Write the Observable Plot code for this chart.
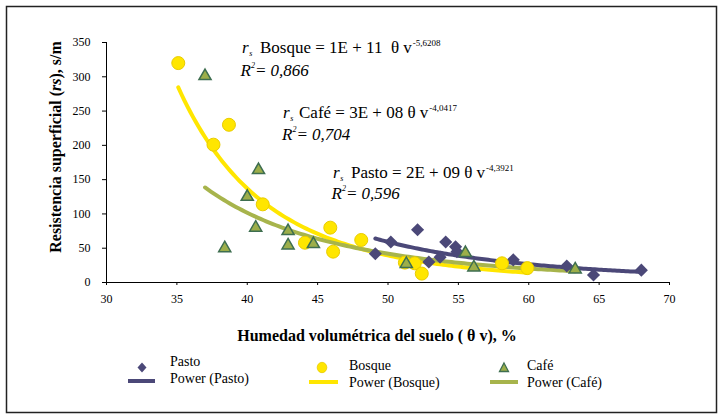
<!DOCTYPE html>
<html><head><meta charset="utf-8">
<script src="https://cdn.jsdelivr.net/npm/d3@7"></script>
<script src="https://cdn.jsdelivr.net/npm/@observablehq/plot@0.6"></script>
<style>
body{margin:0;background:#fff;}
#chart{width:722px;height:415px;}
#chart svg, #chart svg text { font-family: "Liberation Serif", "Times New Roman", serif !important; }
</style>
</head><body><div id="chart"></div>
<script>
// Humedad volumétrica del suelo (θv, %) y resistencia superficial (rs, s/m)
const pastoX = [49.1, 50.2, 52.1, 52.9, 53.7, 54.1, 54.8, 54.9, 58.9, 62.7, 64.6, 68.0];
const pastoY = [42, 59, 77, 30, 37, 59, 52, 45, 33, 24, 11, 18];
const bosqueX = [35.1, 37.6, 38.7, 41.1, 44.1, 45.9, 46.1, 48.1, 51.2, 51.9, 52.4, 58.1, 59.9];
const bosqueY = [320, 201, 230, 114, 58, 80, 45, 62, 29, 28, 13, 28, 21];
const cafeX = [37.0, 38.4, 40.0, 40.6, 40.8, 42.9, 42.9, 44.7, 51.3, 55.5, 56.1, 63.3];
const cafeY = [301, 50, 125, 80, 164, 75, 54, 56, 27, 43, 22, 19];
const xTicks = [30, 35, 40, 45, 50, 55, 60, 65, 70];
const yTicks = [0, 50, 100, 150, 200, 250, 300, 350];
const seriesNames = ["Pasto", "Bosque", "Café"];
const equations = ["= 2E + 09 θ v", "= 1E + 11  θ v", "= 3E + 08 θ v"];
const exponents = ["-4,3921", "-5,6208", "-4,0417"];
const r2 = ["0,596", "0,866", "0,704"];

const rows = (xs, ys, s) => xs.map((x, i) => ({x, y: ys[i], series: s}));
const pasto = rows(pastoX, pastoY, "Pasto");
const bosque = rows(bosqueX, bosqueY, "Bosque");
const cafe = rows(cafeX, cafeY, "Café");

// Power trendline: least squares fit of ln(y) on ln(x), drawn over the data range
function powerFit(data) {
  const lx = data.map(d => Math.log(d.x)), ly = data.map(d => Math.log(d.y));
  const mx = d3.mean(lx), my = d3.mean(ly);
  const b = d3.sum(lx, (v, i) => (v - mx) * (ly[i] - my)) / d3.sum(lx, v => (v - mx) ** 2);
  const a = Math.exp(my - b * mx);
  const [x0, x1] = d3.extent(data, d => d.x);
  return d3.range(0, 121).map(i => { const x = x0 + (x1 - x0) * i / 120; return {x, y: a * Math.pow(x, b)}; });
}

const C = {pasto: "#4B4878", bosque: "#FFE600", bosqueStroke: "#E9CC00", cafe: "#9CAE4A", cafeStroke: "#3E6E50", cafeLine: "#A7B44C"};
const serif = "Liberation Serif, Times New Roman, serif";

const plot = Plot.plot({
  width: 722, height: 415,
  marginLeft: 106, marginRight: 53, marginTop: 42, marginBottom: 133,
  x: {domain: [30, 70]},
  y: {domain: [0, 350]},
  style: {fontFamily: serif, fontSize: "12px", color: "#000", background: "#fff", overflow: "visible"},
  marks: [
    Plot.axisX({ticks: xTicks, tickSize: 3, tickPadding: 9, label: null}),
    Plot.axisY({ticks: yTicks, tickSize: 4, tickPadding: 12, label: null}),
    Plot.ruleY([0], {stroke: "#000"}),
    Plot.ruleX([30], {stroke: "#000"}),
    Plot.line(powerFit(bosque), {x: "x", y: "y", stroke: C.bosque, strokeWidth: 4}),
    Plot.line(powerFit(cafe), {x: "x", y: "y", stroke: C.cafeLine, strokeWidth: 4}),
    Plot.line(powerFit(pasto), {x: "x", y: "y", stroke: C.pasto, strokeWidth: 4}),
    Plot.dot(pasto, {x: "x", y: "y", symbol: "diamond2", r: 5.9, fill: C.pasto}),
    Plot.dot(bosque, {x: "x", y: "y", symbol: "circle", r: 6.5, fill: C.bosque, stroke: C.bosqueStroke, strokeWidth: 1}),
    Plot.dot(cafe, {x: "x", y: "y", symbol: "triangle", r: 4.5, fill: C.cafe, stroke: C.cafeStroke, strokeWidth: 1.5})
  ]
});
document.getElementById("chart").append(plot);

const svg = d3.select(plot);
svg.append("rect").attr("x", 6.5).attr("y", 6.5).attr("width", 710).attr("height", 406)
  .attr("fill", "none").attr("stroke", "#222").attr("stroke-width", 1.5);

const ann = svg.append("g").attr("text-anchor", "start").attr("fill", "#000");

// Y label
const yl = ann.append("text").attr("transform", "translate(61,147) rotate(-90)")
  .attr("text-anchor", "middle").attr("font-size", 16).attr("font-weight", "bold");
yl.append("tspan").text("Resistencia superficial (");
yl.append("tspan").attr("font-style", "italic").text("rs");
yl.append("tspan").text("), s/m");

// X label
ann.append("text").attr("x", 377).attr("y", 341).attr("text-anchor", "middle")
  .attr("font-size", 16).attr("font-weight", "bold")
  .style("white-space", "pre").text("Humedad volumétrica del suelo ( θ v), %");

// Equations
const eqPos = [
  {rx: 333, nx: 351, y: 178, Rx: 331.5, y2: 199},
  {rx: 242, nx: 260, y: 53, Rx: 240.5, y2: 76},
  {rx: 283, nx: 299, y: 118, Rx: 282, y2: 140}
];
seriesNames.forEach((name, i) => {
  const p = eqPos[i];
  const t = ann.append("text").attr("x", p.rx).attr("y", p.y).attr("font-size", 17)
    .style("white-space", "pre");
  t.append("tspan").attr("font-style", "italic").text("r");
  t.append("tspan").attr("font-style", "italic").attr("font-size", 8).attr("dy", 3).attr("dx", 0.5).text("s");
  t.append("tspan").attr("x", p.nx).attr("dy", -3).text(name + " " + equations[i]);
  t.append("tspan").attr("font-size", 9).attr("dy", -7).attr("dx", 1).text(exponents[i]);
  const t2 = ann.append("text").attr("x", p.Rx).attr("y", p.y2).attr("font-size", 17)
    .attr("font-style", "italic");
  t2.append("tspan").text("R");
  t2.append("tspan").attr("font-size", 8).attr("dy", -8).text("2");
  t2.append("tspan").attr("dy", 8).text("= " + r2[i]);
});

// Legend
const lg = ann.append("g").attr("font-size", 14);
const legendItems = [
  {x: 170, y: 366, sx: 142, lx0: 128, lx1: 155, ly: 381, color: C.pasto, shape: "diamond"},
  {x: 349, y: 370, sx: 322, lx0: 309, lx1: 338, ly: 382, color: C.bosque, shape: "circle"},
  {x: 527, y: 370, sx: 504, lx0: 490, lx1: 518, ly: 382, color: C.cafeLine, shape: "triangle"}
];
legendItems.forEach((it, i) => {
  const cy = 367.5;
  if (it.shape === "diamond") {
    lg.append("path").attr("d", `M${it.sx},${cy - 5}L${it.sx + 4.5},${cy}L${it.sx},${cy + 5}L${it.sx - 4.5},${cy}Z`).attr("fill", C.pasto);
  } else if (it.shape === "circle") {
    lg.append("ellipse").attr("cx", it.sx).attr("cy", cy).attr("rx", 4.8).attr("ry", 5.2).attr("fill", C.bosque).attr("stroke", C.bosqueStroke).attr("stroke-width", 0.8);
  } else {
    lg.append("path").attr("d", `M${it.sx},${cy - 4.5}L${it.sx + 4.5},${cy + 4}L${it.sx - 4.5},${cy + 4}Z`).attr("fill", C.cafe).attr("stroke", C.cafeStroke).attr("stroke-width", 1.3);
  }
  lg.append("line").attr("x1", it.lx0).attr("x2", it.lx1).attr("y1", it.ly).attr("y2", it.ly)
    .attr("stroke", it.color).attr("stroke-width", 4);
  lg.append("text").attr("x", it.x).attr("y", it.y).text(seriesNames[i]);
  lg.append("text").attr("x", it.x).attr("y", it.y + 17).text(`Power (${seriesNames[i]})`);
});
</script>
</body></html>
